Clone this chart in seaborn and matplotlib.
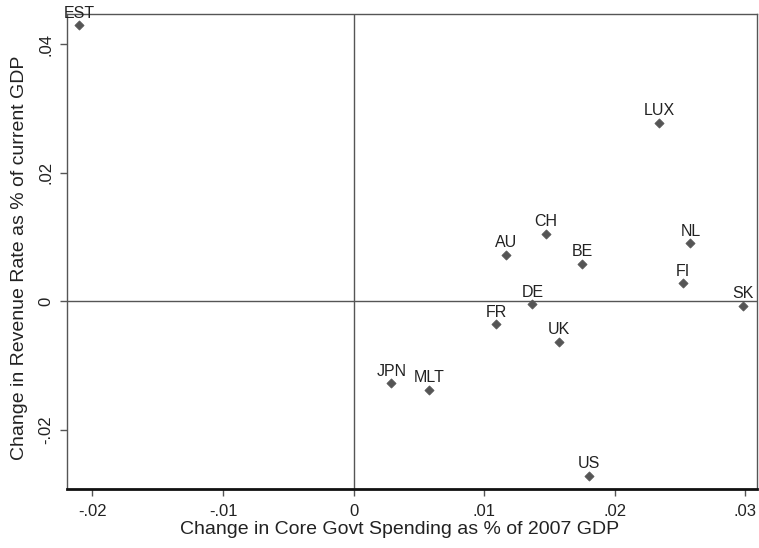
import matplotlib
matplotlib.use("Agg")
import matplotlib.pyplot as plt
import seaborn as sns
import pandas as pd

countries = ["EST", "LUX", "CH", "AU", "BE", "NL", "FI", "SK", "DE", "FR",
             "UK", "JPN", "MLT", "US"]
spending_change = [-0.0210, 0.0234, 0.0147, 0.0117, 0.0175, 0.0258, 0.0252,
                   0.0298, 0.0137, 0.0109, 0.0157, 0.0029, 0.0058, 0.0180]
revenue_change = [0.0430, 0.0278, 0.0105, 0.0072, 0.0058, 0.0090, 0.0028,
                  -0.0007, -0.0005, -0.0036, -0.0063, -0.0128, -0.0138, -0.0272]

x_ticks = [-0.02, -0.01, 0, 0.01, 0.02, 0.03]
x_tick_labels = ["-.02", "-.01", "0", ".01", ".02", ".03"]
y_ticks = [-0.02, 0, 0.02, 0.04]
y_tick_labels = ["-.02", "0", ".02", ".04"]

df = pd.DataFrame({"country": countries,
                   "spending": spending_change,
                   "revenue": revenue_change})

sns.set_theme(style="white")
plt.rcParams["font.family"] = ["Liberation Sans", "DejaVu Sans"]

fig = plt.figure(figsize=(7.59, 5.48), dpi=100)
ax = fig.add_axes([0.0883, 0.1077, 0.9091, 0.8668])

ax.axvline(0, color="#555555", lw=1.0, zorder=1)
ax.axhline(0, color="#555555", lw=1.0, zorder=1)

sns.scatterplot(data=df, x="spending", y="revenue", ax=ax, marker="D",
                s=22, color="#555555", edgecolor="#555555", linewidth=0.5,
                zorder=3, legend=False)

for _, row in df.iterrows():
    ax.annotate(row["country"], (row["spending"], row["revenue"]),
                xytext=(0, 5.5), textcoords="offset points",
                ha="center", va="baseline", fontsize=11.5, color="#222222")

ax.set_xlim(-0.02195, 0.0309)
ax.set_ylim(-0.02924, 0.04475)
ax.set_xticks(x_ticks)
ax.set_xticklabels(x_tick_labels)
ax.set_yticks(y_ticks)
ax.set_yticklabels(y_tick_labels, rotation=90, va="center")

ax.tick_params(axis="both", direction="out", length=5, width=1,
               color="#555555", labelsize=12, labelcolor="#222222")
ax.tick_params(axis="x", bottom=True, pad=6)
ax.tick_params(axis="y", left=True, pad=5)

for side in ["top", "right", "left"]:
    ax.spines[side].set_color("#555555")
    ax.spines[side].set_linewidth(1.0)
ax.spines["bottom"].set_color("#111111")
ax.spines["bottom"].set_linewidth(2.0)

ax.set_xlabel("Change in Core Govt Spending as % of 2007 GDP",
              fontsize=14, color="#222222")
ax.set_ylabel("Change in Revenue Rate as % of current GDP",
              fontsize=14, color="#222222")
ax.xaxis.set_label_coords(0.4826, -0.0675)
ax.yaxis.set_label_coords(-0.0565, 0.486)

fig.savefig("out.png", dpi=100)
